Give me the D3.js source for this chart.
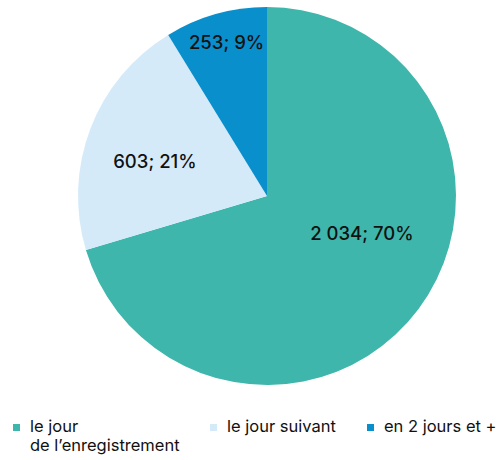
<!DOCTYPE html>
<html>
<head>
<meta charset="utf-8">
<script src="https://cdn.jsdelivr.net/npm/d3@7"></script>
<style>
  body { margin: 0; background: #fff; }
  text { font-family: Inter, "Noto Sans", sans-serif; }
</style>
</head>
<body>
<div id="chart"></div>
<script>
// délai de traitement
const categories = ["le jour\nde l\u2019enregistrement", "le jour suivant", "en 2 jours et +"];
const values = [2034, 603, 253];
const pctLabels = ["70%", "21%", "9%"];
const colors = ["#3eb6ab", "#d5eaf9", "#0a8fcd"];

const width = 500, height = 460;
const cx = 267, cy = 196, radius = 189;

const svg = d3.select("#chart").append("svg")
  .attr("width", width)
  .attr("height", height);

const g = svg.append("g").attr("transform", `translate(${cx},${cy})`);

const pie = d3.pie().sort(null).value(d => d);
const arcs = pie(values);

const arc = d3.arc().innerRadius(0).outerRadius(radius);

g.selectAll("path")
  .data(arcs)
  .join("path")
  .attr("d", arc)
  .attr("fill", (d, i) => colors[i]);

// placement des étiquettes (à la main, façon "best fit")
const labelPos = [{ r: 0.54, da: -15 }, { r: 0.62, da: -4 }, { r: 0.84, da: 1 }];
const fmt = n => d3.format(",")(n).replace(/,/g, " ");

g.selectAll("text.lbl")
  .data(arcs)
  .join("text")
  .attr("class", "lbl")
  .attr("transform", (d, i) => {
    const a = (d.startAngle + d.endAngle) / 2 + labelPos[i].da * Math.PI / 180;
    const r = radius * labelPos[i].r;
    return `translate(${r * Math.sin(a)},${-r * Math.cos(a)})`;
  })
  .attr("text-anchor", "middle")
  .attr("dy", "0.35em")
  .attr("font-size", 18.5)
  .attr("font-weight", 500)
  .attr("fill", "#111")
  .text((d, i) => `${fmt(values[i])}; ${pctLabels[i]}`);

// légende
const legX = [13, 210, 367];
const leg = svg.selectAll("g.leg")
  .data(categories)
  .join("g")
  .attr("class", "leg")
  .attr("transform", (d, i) => `translate(${legX[i]},424)`);

leg.append("rect")
  .attr("width", 7).attr("height", 7)
  .attr("fill", (d, i) => colors[i]);

leg.each(function (d) {
  d.split("\n").forEach((line, k) => {
    d3.select(this).append("text")
      .attr("x", 17)
      .attr("y", 8 + k * 19)
      .attr("font-size", 16.5)
      .attr("fill", "#111")
      .text(line);
  });
});
</script>
</body>
</html>
